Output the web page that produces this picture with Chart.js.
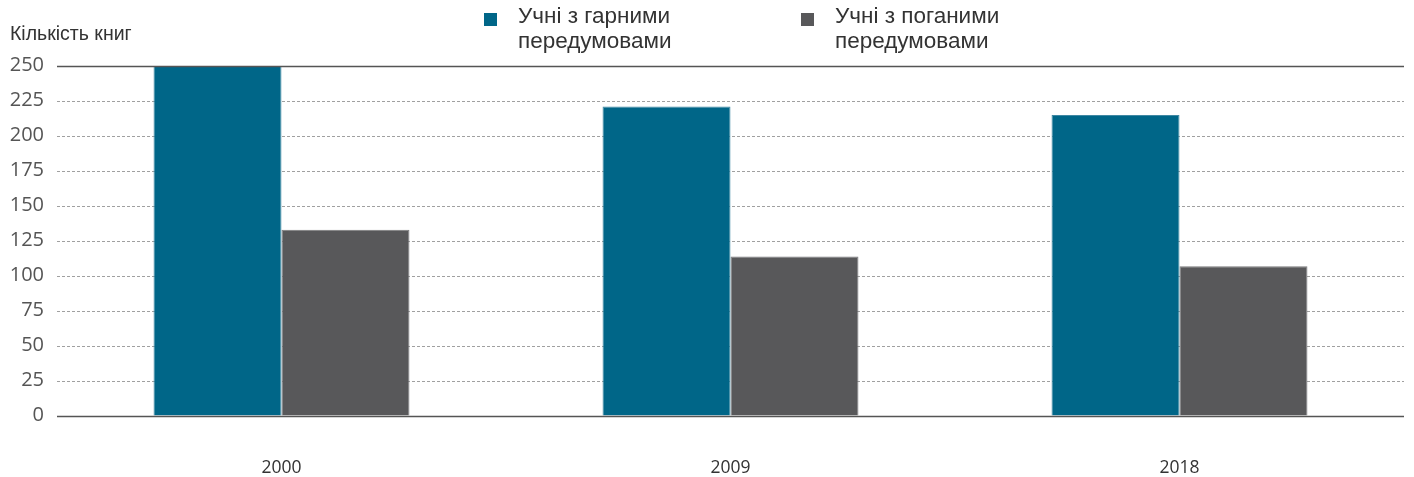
<!DOCTYPE html>
<html>
<head>
<meta charset="utf-8">
<script src="https://cdn.jsdelivr.net/npm/chart.js@4"></script>
<style>
  html, body { margin: 0; padding: 0; background: #fff; }
  #wrap { position: relative; width: 1414px; height: 477px; }
  canvas { position: absolute; left: 0; top: 0; }
  .cap { position: absolute; left: 10px; top: 24px; font-family: "Liberation Sans", Arial, sans-serif; font-size: 19.5px; line-height: 19px; color: #333; }
  .leg { position: absolute; top: 3px; font-family: "Liberation Sans", Arial, sans-serif; font-size: 22.5px; line-height: 25px; color: #333; white-space: nowrap; }
  .leg .box { position: absolute; left: -34px; top: 10px; width: 13px; height: 13px; }
</style>
</head>
<body>
<div id="wrap">
  <canvas id="c" width="1414" height="477"></canvas>
  <div class="cap" id="cap"></div>
  <div class="leg" id="leg0" style="left:518px"><span class="box"></span><span class="t"></span></div>
  <div class="leg" id="leg1" style="left:835px"><span class="box"></span><span class="t"></span></div>
</div>
<script>
const categories = ["2000", "2009", "2018"];
const seriesNames = [["Учні з гарними", "передумовами"], ["Учні з поганими", "передумовами"]];
const goodValues = [250, 221, 215];
const poorValues = [133, 114, 107];
const yTicks = [0, 25, 50, 75, 100, 125, 150, 175, 200, 225, 250];
const axisCaption = "Кількість книг";
const colors = ["#006688", "#58585a"];

document.getElementById('cap').textContent = axisCaption;
[0, 1].forEach(i => {
  const el = document.getElementById('leg' + i);
  el.querySelector('.box').style.background = colors[i];
  el.querySelector('.t').innerHTML = seriesNames[i].join('<br>');
});

const solidLines = {
  id: 'solidLines',
  afterDatasetsDraw(chart) {
    const { ctx, chartArea, scales } = chart;
    ctx.save();
    ctx.strokeStyle = '#555';
    ctx.lineWidth = 1.5;
    [yTicks[0], yTicks[yTicks.length - 1]].forEach(v => {
      const y = Math.round(scales.y.getPixelForValue(v)) + 0.5;
      ctx.beginPath();
      ctx.moveTo(chartArea.left, y);
      ctx.lineTo(chartArea.right, y);
      ctx.stroke();
    });
    ctx.restore();
  }
};

new Chart(document.getElementById('c'), {
  type: 'bar',
  data: {
    labels: categories,
    datasets: [
      { label: seriesNames[0].join(' '), data: goodValues, backgroundColor: colors[0], borderColor: '#3f88a3', borderWidth: 1 },
      { label: seriesNames[1].join(' '), data: poorValues, backgroundColor: colors[1], borderColor: '#7a7a7c', borderWidth: 1 }
    ]
  },
  options: {
    responsive: false,
    animation: false,
    events: [],
    layout: { padding: { top: 66, right: 10, left: 0, bottom: 0 } },
    plugins: { legend: { display: false }, tooltip: { enabled: false }, title: { display: false } },
    datasets: { bar: { categoryPercentage: 0.57, barPercentage: 1.0 } },
    scales: {
      x: {
        grid: { display: false },
        border: { display: false },
        ticks: { color: '#333', font: { family: 'Open Sans', size: 17.5 }, padding: 34 },
        afterFit(s) { s.height = 61; }
      },
      y: {
        min: 0, max: 250,
        afterBuildTicks(s) { s.ticks = yTicks.map(v => ({ value: v })); },
        grid: { color: '#a0a0a0', lineWidth: 1, drawTicks: false },
        border: { display: false, dash: [3, 2] },
        ticks: { color: '#555', font: { family: 'Open Sans', size: 20 }, padding: 13, labelOffset: -1 },
        afterFit(s) { s.width = 57; }
      }
    }
  },
  plugins: [solidLines]
});
</script>
</body>
</html>
